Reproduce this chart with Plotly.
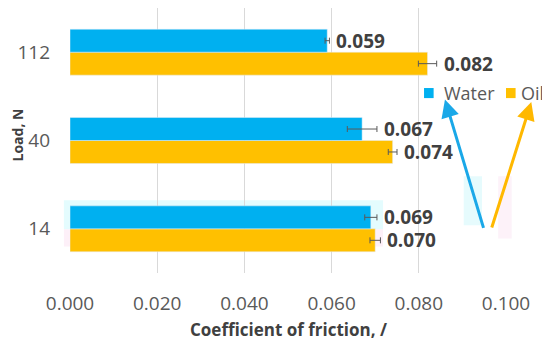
import plotly.graph_objects as go

loads = ["14", "40", "112"]
water = [0.069, 0.067, 0.059]
oil = [0.070, 0.074, 0.082]
water_err = [0.0014, 0.0034, 0.0005]
oil_err = [0.0012, 0.0010, 0.0021]
x_ticks = [0.0, 0.02, 0.04, 0.06, 0.08, 0.10]
x_tick_labels = ["0.000", "0.020", "0.040", "0.060", "0.080", "0.100"]
x_title = "Coefficient of friction, /"
y_title = "Load, N"

BLUE = "#00B0F0"
GOLD = "#FFC000"
FONT = "Open Sans"

fig = go.Figure()
fig.add_trace(go.Bar(
    y=loads, x=oil, name="Oil", orientation="h", marker_color=GOLD,
    error_x=dict(type="data", array=oil_err, color="#595959", thickness=1, width=3),
))
fig.add_trace(go.Bar(
    y=loads, x=water, name="Water", orientation="h", marker_color=BLUE,
    error_x=dict(type="data", array=water_err, color="#595959", thickness=1, width=3),
))

# value labels
for vals, errs, off in ((water, water_err, 0.13), (oil, oil_err, -0.13)):
    for i, (v, e) in enumerate(zip(vals, errs)):
        fig.add_annotation(
            x=v + e, y=i + off, xref="x", yref="y", text=f"<b>{v:.3f}</b>",
            showarrow=False, xanchor="left", yanchor="middle", xshift=5,
            font=dict(family=FONT, size=19, color="#404040"),
        )

# axis titles
fig.add_annotation(x=0.5, y=0, xref="paper", yref="paper", yshift=-56,
                   text=f"<b>{x_title}</b>", showarrow=False,
                   xanchor="center", yanchor="middle", borderpad=0,
                   font=dict(family=FONT, size=17, color="#404040"))
fig.add_annotation(x=0, y=0.5, xref="paper", yref="paper", xshift=-53, yshift=5,
                   text=f"<b>{y_title}</b>", showarrow=False, textangle=-90,
                   xanchor="center", yanchor="middle", borderpad=0,
                   font=dict(family=FONT, size=14, color="#404040"))

# legend (drawn manually so the two entries sit where the reference has them)
legend_items = [("Water", BLUE, 0.812, 0.853), ("Oil", GOLD, 1.000, 1.030)]
for name, col, sx, tx in legend_items:
    fig.add_shape(type="rect", xref="paper", yref="paper", x0=sx, x1=sx + 0.022,
                  y0=0.660, y1=0.698, fillcolor=col, line_width=0)
    fig.add_annotation(x=tx, y=0.679, xref="paper", yref="paper", text=name,
                       showarrow=False, xanchor="left", yanchor="middle",
                       font=dict(family=FONT, size=18, color="#595959"))

# faint highlight boxes seen in the reference
for x0, x1, y0, y1, col in [(-0.014, 0.718, 0.165, 0.275, "#E4FCFE"),
                            (-0.014, 0.718, 0.100, 0.165, "#FDF0F8"),
                            (0.903, 0.945, 0.18, 0.365, "#E6FBFD"),
                            (0.982, 1.013, 0.13, 0.365, "#FDF2F9")]:
    fig.add_shape(type="rect", xref="paper", yref="paper", x0=x0, x1=x1,
                  y0=y0, y1=y1, fillcolor=col, line_width=0, layer="below")

# arrows pointing to legend
fig.add_annotation(x=0.860, y=0.655, xref="paper", yref="paper", ax=39, ay=130,
                   text="", showarrow=True, arrowhead=2, arrowsize=1.2,
                   arrowwidth=3, arrowcolor="#1AA8E8")
fig.add_annotation(x=1.058, y=0.645, xref="paper", yref="paper", ax=-40, ay=127,
                   text="", showarrow=True, arrowhead=2, arrowsize=1.2,
                   arrowwidth=3, arrowcolor="#FFB800")

# page has an 8px body margin: figure is offset so the plot lands where the reference has it
fig.update_layout(
    width=542, height=332,
    margin=dict(l=62, r=44, t=0, b=67, autoexpand=False),
    paper_bgcolor="white", plot_bgcolor="rgba(0,0,0,0)",
    barmode="group", bargap=0.48, bargroupgap=0,
    font=dict(family=FONT, size=18, color="#595959"),
    showlegend=False,
    xaxis=dict(range=[0, 0.1], tickvals=x_ticks, ticktext=x_tick_labels,
               automargin=False, ticklabelstandoff=17,
               showgrid=True, gridcolor="#D9D9D9", gridwidth=1, zeroline=False,
               showline=False, ticks="", tickfont=dict(size=19, color="#595959")),
    yaxis=dict(type="category", showgrid=False, zeroline=False, showline=False,
               automargin=False,
               ticks="", ticklabelstandoff=19, tickfont=dict(size=19, color="#595959")),
)

fig.write_html("out.html")
